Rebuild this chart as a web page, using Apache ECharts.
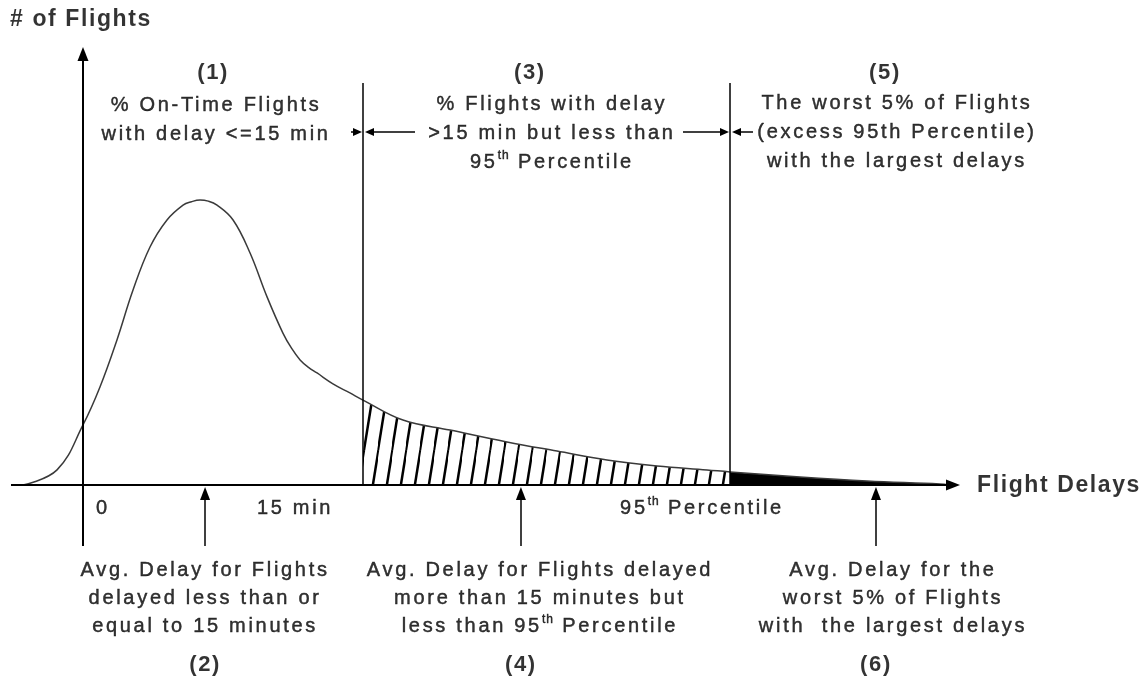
<!DOCTYPE html>
<html>
<head>
<meta charset="utf-8">
<script src="https://cdn.jsdelivr.net/npm/echarts@6/dist/echarts.min.js"></script>
<style>
html,body{margin:0;padding:0;background:#fff;}
#chart{width:1146px;height:685px;}
</style>
</head>
<body>
<div id="chart"></div>
<script>
// ---------------- DATA ----------------
// Flight-delay distribution (x: delay, 0 = on time, 15 = 15 min; y: relative # of flights)
const curveX = [-3.21, -1.39, 0, 0.91, 1.82, 2.68, 3.59, 4.50, 5.36, 5.81, 6.27, 6.71, 7.18, 8.04, 8.95, 9.86, 10.71, 11.17, 11.63, 12.08, 12.54, 13.39, 14.30, 15, 17.14, 19.66, 22.71, 25.39, 28.07, 30.75, 33.43, 34.66, 38.41, 42.0, 45.9, 46.4];
const curveY = [0, 5.3, 21.1, 34.4, 50.9, 68.4, 83.5, 93.0, 98.2, 99.4, 100, 99.6, 98.2, 93.0, 81.4, 66.0, 53.3, 48.0, 43.9, 41.3, 39.3, 35.5, 32.3, 29.8, 22.8, 19.3, 15.1, 11.9, 8.8, 6.7, 5.3, 4.6, 2.8, 1.4, 0.35, 0];
// Region boundaries: 0, 15 min, 95th percentile
const boundaries = [0, 15, 34.66];
// Average delay of each region (arrows (2), (4), (6))
const avgDelays = [6.54, 23.46, 42.48];
// Axis tick labels
const tickLabels = ['0', '15 min', ['95', 'th', ' Percentile']];
const axisTitles = ['# of Flights', 'Flight Delays'];
const regionNumbersTop = ['(1)', '(3)', '(5)'];
const regionNumbersBottom = ['(2)', '(4)', '(6)'];
const regionTextsTop = [
  [['% On-Time Flights'], ['with delay <=15 min']],
  [['% Flights with delay'], ['>15 min but less than'], ['95', 'th', ' Percentile']],
  [['The worst 5% of Flights'], ['(excess 95th Percentile)'], ['with the largest delays']]
];
const regionTextsBottom = [
  [['Avg. Delay for Flights'], ['delayed less than or'], ['equal to 15 minutes']],
  [['Avg. Delay for Flights delayed'], ['more than 15 minutes but'], ['less than 95', 'th', ' Percentile']],
  [['Avg. Delay for the'], ['worst 5% of Flights'], ['with  the largest delays']]
];

// ---------------- LAYOUT ----------------
const W = 1146, H = 685;
const X0 = -4.446, X1 = 56.946, Y0 = -70.18, Y1 = 170.18;
const ux = (X1 - X0) / W;   // data units per pixel (x)
const uy = (Y1 - Y0) / H;   // data units per pixel (y)
const FONT = 'Liberation Sans';
const LS = { reg: 2.7, bold: 1.6, sup: 1.0 };
const TB = 0.45; // slight text stroke to match the heavier reference text

// letter spacing for canvas text (the reference text is loosely spaced)
(function () {
  const P = CanvasRenderingContext2D.prototype;
  function spacing(ctx) {
    const font = ctx.font || '';
    const ls = /bold|700/.test(font) ? LS.bold : (/(^|\s)1[0-4](\.\d+)?px/.test(font) ? LS.sup : LS.reg);
    try { ctx.letterSpacing = ls + 'px'; } catch (e) {}
  }
  ['fillText', 'strokeText'].forEach(k => {
    const f = P[k];
    P[k] = function (t, x, y, m) {
      spacing(this);
      return m === undefined ? f.call(this, t, x, y) : f.call(this, t, x, y, m);
    };
  });
})();

const rich = {
  sup: { fontSize: 12, fontFamily: FONT, color: '#000', textBorderColor: '#000', textBorderWidth: TB,
         padding: [0, LS.sup, 12, LS.sup] }
};
function richLine(parts) {
  if (parts.length === 1) return parts[0];
  const out = parts.map((p, i) => {
    if (i === 1) return '{sup|' + p + '}';
    const name = 'r' + p.length;
    rich[name] = { fontSize: 20, fontFamily: FONT, color: '#000', textBorderColor: '#000', textBorderWidth: TB,
      padding: [0, p.length * LS.reg / 2, 0, p.length * LS.reg / 2] };
    return '{' + name + '|' + p + '}';
  });
  return out.join('');
}
function block(lines) { return lines.map(richLine).join('\n'); }

// hatch pattern
function hatchCanvas() {
  const w = 14.5, h = 90, c = document.createElement('canvas');
  c.width = w; c.height = h;
  const g = c.getContext('2d');
  g.strokeStyle = '#000'; g.lineWidth = 2.5;
  [-w, 0, w].forEach(off => { g.beginPath(); g.moveTo(off, h); g.lineTo(off + w, 0); g.stroke(); });
  return c;
}

const curveData = curveX.map((x, i) => [x, curveY[i]]);
const hatchData = curveData.filter(p => p[0] >= boundaries[1] && p[0] <= boundaries[2]);
const tailData = curveData.filter(p => p[0] >= boundaries[2]);

// ---------------- GUIDE LINES / ARROWS ----------------
function seg(a, b, opt) {
  opt = opt || {};
  return [
    { coord: a, symbol: 'none', lineStyle: { color: '#000', width: opt.width || 1.5, type: 'solid' } },
    { coord: b, symbol: opt.arrow ? 'triangle' : 'none', symbolSize: opt.arrow || 0 }
  ];
}
const guides = [];
guides.push(seg([-3.857, 0], [X0 + (953) * ux, 0], { width: 2, arrow: [11, 14] }));
guides.push(seg([0, -(546 - 485) * uy], [0, (485 - 54) * uy], { width: 2, arrow: [11, 14] }));
const topY = (485 - 83) * uy;
[boundaries[1], boundaries[2]].forEach(b => guides.push(seg([b, 0], [b, topY])));
const arrY = (485 - 132) * uy;
const arrLen = [[12, 52], [47, 23]];
[boundaries[1], boundaries[2]].forEach((b, i) => {
  guides.push(seg([b - arrLen[i][0] * ux, arrY], [b - 5.5 * ux, arrY], { width: 1.5, arrow: [8, 9] }));
  guides.push(seg([b + arrLen[i][1] * ux, arrY], [b + 6.5 * ux, arrY], { width: 1.5, arrow: [8, 9] }));
});
avgDelays.forEach(a => guides.push(seg([a, -(546 - 485) * uy], [a, -(493.5 - 485) * uy], { width: 1.5, arrow: [10, 13] })));

// ---------------- ANNOTATIONS ----------------
function ann(x, y, text, o) {
  o = o || {};
  return {
    value: [x, y],
    label: {
      show: true, position: 'inside', formatter: text,
      align: o.align || 'center', verticalAlign: 'middle',
      fontFamily: FONT, fontSize: o.size || 20, fontWeight: o.bold ? 'bold' : 'normal',
      color: '#000', lineHeight: o.lh || 28,
      textBorderColor: '#000', textBorderWidth: o.bold ? 0 : TB, rich: rich
    }
  };
}
const toX = px => X0 + px * ux;
const toY = py => Y1 - py * uy;
const annotations = [];
annotations.push(ann(toX(10), toY(20), axisTitles[0], { align: 'left', bold: true, size: 23 }));
annotations.push(ann(toX(977), toY(486), axisTitles[1], { align: 'left', bold: true, size: 23 }));
annotations.push(ann(boundaries[0] + 20 * ux, toY(508), tickLabels[0]));
annotations.push(ann(boundaries[1] - 68 * ux, toY(508), tickLabels[1]));
annotations.push(ann(boundaries[2] - 28 * ux, toY(508), richLine(tickLabels[2])));
const topNumX = [avgDelays[0] + 8 * ux, avgDelays[1] + 9 * ux, avgDelays[2] + 9 * ux];
const topTxtX = [avgDelays[0] + 11 * ux, avgDelays[1] + 31 * ux, avgDelays[2] + 21 * ux];
const topTxtY = [toY(120), toY(133), toY(132)];
regionNumbersTop.forEach((t, i) => annotations.push(ann(topNumX[i], toY(73), t, { bold: true, size: 22 })));
regionTextsTop.forEach((t, i) => annotations.push(ann(topTxtX[i], topTxtY[i], block(t), { lh: 29 })));
const botTxtX = [avgDelays[0], avgDelays[1] + 19 * ux, avgDelays[2] + 17 * ux];
regionTextsBottom.forEach((t, i) => annotations.push(ann(botTxtX[i], toY(598), block(t), { lh: 28 })));
regionNumbersBottom.forEach((t, i) => annotations.push(ann(avgDelays[i], toY(665), t, { bold: true, size: 22 })));

// ---------------- CHART ----------------
const chart = echarts.init(document.getElementById('chart'), null, { renderer: 'canvas' });
const SM = 0.4;
chart.setOption({
  animation: false,
  backgroundColor: '#fff',
  grid: { left: 0, right: 0, top: 0, bottom: 0 },
  xAxis: { type: 'value', min: X0, max: X1, show: false },
  yAxis: { type: 'value', min: Y0, max: Y1, show: false },
  series: [
    { type: 'line', name: 'hatched', data: hatchData, smooth: SM, showSymbol: false, silent: true, z: 1,
      lineStyle: { width: 0 }, areaStyle: { color: { image: hatchCanvas(), repeat: 'repeat' }, opacity: 1 } },
    { type: 'line', name: 'worst5', data: tailData, smooth: SM, showSymbol: false, silent: true, z: 1,
      lineStyle: { width: 0 }, areaStyle: { color: '#000', opacity: 1 } },
    { type: 'line', name: 'guides', data: [[0, 0]], showSymbol: false, silent: true, z: 2,
      lineStyle: { width: 0 },
      markLine: { silent: true, animation: false, label: { show: false }, data: guides } },
    { type: 'line', name: 'curve', data: curveData, smooth: SM, showSymbol: false, silent: true, z: 3,
      lineStyle: { color: '#3a3a3a', width: 1.5 } },
    { type: 'scatter', name: 'notes', data: annotations, symbolSize: 1, silent: true, z: 4,
      itemStyle: { color: 'rgba(0,0,0,0)' }, labelLayout: { hideOverlap: false } }
  ]
});
</script>
</body>
</html>
